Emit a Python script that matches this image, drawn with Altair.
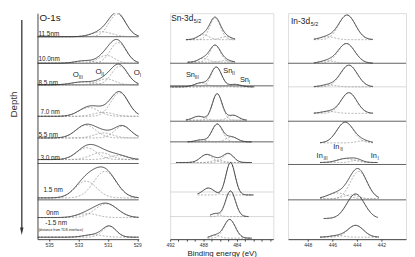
import numpy as np
import pandas as pd
import altair as alt

# ---------------- data ----------------
# O-1s panel: rows top -> bottom
o_depths = ["11.5nm", "10.0nm", "8.5 nm", "7.0 nm", "5.5 nm", "3.0 nm", "1.5 nm", "0nm", "-1.5 nm"]
o_offsets = [206, 179, 157, 125, 103, 81, 42, 22, 2]
o_peaks = [
    [(530.36, 23, 1.35), (531.4, 5, 1.6)],
    [(530.3, 21, 1.3), (531.1, 8, 1.3), (532.6, 2.5, 1.5)],
    [(530.2, 19, 1.3), (531.1, 6, 1.4), (532.7, 3, 1.8)],
    [(530.2, 24, 1.4), (532.3, 9, 1.6), (531.3, 4, 1.6)],
    [(532.5, 13, 1.6), (531.3, 5, 1.5), (530.0, 12, 1.3)],
    [(532.45, 12, 1.6), (531.5, 7, 1.6), (530.3, 4, 1.5)],
    [(532.5, 17, 1.7), (531.2, 27, 1.8)],
    [(531.1, 14, 1.8), (532.4, 4, 1.6)],
    [(530.9, 11, 1.1), (532.0, 2.5, 1.5)],
]
o_domain = [528.9, 535.8]
o_ticks = [535, 533, 531, 529]
o_seps = [206, 179, 157, 77, 40]

# Sn-3d5/2 panel
sn_offsets = [203, 180, 155, 121, 99, 78, 45, 23, 1]
sn_ranges = [(490.1, 484.2), (489.9, 484.2), (492.2, 481.9), (490.1, 482.8), (489.9, 482.2),
             (491.3, 482.2), (488.7, 482.0), (487.2, 482.6), (487.5, 482.2)]
sn_peaks = [
    [(486.6, 22, 1.5), (488.0, 5, 1.6), (485.3, 3, 1.5)],
    [(486.6, 17, 1.5), (488.0, 4, 1.5), (485.3, 2, 1.5)],
    [(486.45, 20, 1.5), (488.3, 4, 1.8), (484.2, 2.5, 1.6)],
    [(486.35, 27, 1.4), (488.6, 4, 1.6), (484.4, 5, 1.5)],
    [(486.35, 18, 1.5), (484.6, 5, 1.6), (488.3, 2, 1.5)],
    [(487.65, 8, 1.7), (485.0, 9, 1.5), (486.3, 2.5, 1.5)],
    [(484.75, 33, 1.3), (487.4, 7, 1.6)],
    [(484.75, 26, 1.4), (486.6, 3, 1.2)],
    [(484.85, 19, 1.6), (486.6, 3, 1.4)],
]
sn_domain = [479.6, 492.0]
sn_ticks = list(range(480, 493))
sn_seps_dark = [179, 156, 120, 99]
sn_seps_light = [77, 48, 23]

# In-3d5/2 panel
in_offsets = [203, 179, 155, 128, 98, 78, 41, 21, 2]
in_ranges = [(447.5, 442.7), (447.5, 442.7), (447.5, 442.7), (447.5, 442.7), (447.0, 442.7),
             (447.0, 442.3), (447.0, 442.2), (446.7, 442.3), (447.0, 442.2)]
in_peaks = [
    [(444.8, 25, 1.6), (446.4, 3, 1.4)],
    [(444.85, 20, 1.6), (446.4, 2.5, 1.4)],
    [(444.65, 22, 1.6), (446.3, 2, 1.4)],
    [(444.65, 21, 1.5), (446.3, 2, 1.4)],
    [(444.95, 21, 1.6), (443.5, 2, 1.2)],
    [(444.9, 4, 1.6), (444.0, 2.5, 1.0)],
    [(443.85, 28, 1.6), (445.6, 6, 1.8), (444.5, 4, 1.4)],
    [(444.1, 25, 1.7)],
    [(444.1, 12, 1.5), (445.6, 1.5, 1.4)],
]
in_domain = [440.0, 449.6]
in_ticks = [448, 446, 444, 442]
in_seps_dark = [179, 120, 76, 40]
in_seps_light = [155]

FONT = "Liberation Sans"
H = 230
dummy = pd.DataFrame({"a": [0]})


def build(offsets, peaks, ranges, domain):
    recs = []
    for i, (off, comps) in enumerate(zip(offsets, peaks)):
        hi, lo = ranges[i] if ranges else (domain[1], domain[0])
        E = np.linspace(lo, hi, 160)
        total = np.zeros_like(E)
        for j, (c, h, w) in enumerate(comps):
            g = h * np.exp(-4 * np.log(2) * (E - c) ** 2 / w ** 2)
            total += g
            recs += [{"E": e, "y": off + v, "s": f"{i}-{j}", "kind": "comp"} for e, v in zip(E, g)]
        recs += [{"E": e, "y": off + v, "s": f"{i}-env", "kind": "env"} for e, v in zip(E, total)]
    return pd.DataFrame(recs)


def ann(text, x, y, size, color="#222", align="left"):
    return alt.Chart(dummy).mark_text(
        text=text, fontSize=size, font=FONT, color=color, align=align, baseline="middle"
    ).encode(x=alt.value(x), y=alt.value(y))


def panel(df, domain, width, ticks, seps_dark, seps_light, anns, label_expr=None,
          title=None, left_axis=False, boxed=True):
    axis_kw = dict(values=ticks, format="d", labelFontSize=5, tickSize=2,
                   labelPadding=1, titlePadding=3, titleFontSize=8, titleFontWeight="normal",
                   labelFont=FONT, titleFont=FONT, grid=False, domainColor="#444",
                   tickColor="#444", labelColor="#333", titleColor="#222", labelFlush=False)
    axis_kw["title"] = title if title else None
    if label_expr:
        axis_kw["labelExpr"] = label_expr
    xaxis = alt.Axis(**axis_kw)
    xs = alt.Scale(domain=domain, reverse=True, nice=False, zero=False)
    ys = alt.Scale(domain=[0, H], nice=False, zero=False)
    if left_axis:
        yaxis = alt.Axis(labels=False, ticks=False, title=None, grid=False, domainColor="#444")
    else:
        yaxis = None
    base = alt.Chart(df).encode(
        x=alt.X("E:Q", scale=xs, axis=xaxis),
        y=alt.Y("y:Q", scale=ys, axis=yaxis),
        detail="s:N",
    )
    comps = base.transform_filter(alt.datum.kind == "comp").mark_line(
        clip=True, color="#8c8c8c", strokeWidth=0.7, strokeDash=[2, 1.5])
    env = base.transform_filter(alt.datum.kind == "env").mark_line(
        clip=True, color="#1e1e1e", strokeWidth=0.8)
    layers = []
    if seps_light:
        layers.append(alt.Chart(pd.DataFrame({"y": seps_light})).mark_rule(
            color="#c8c8c8", strokeWidth=0.7).encode(y=alt.Y("y:Q", scale=ys, axis=yaxis)))
    if seps_dark:
        layers.append(alt.Chart(pd.DataFrame({"y": seps_dark})).mark_rule(
            color="#3a3a3a", strokeWidth=0.8).encode(y=alt.Y("y:Q", scale=ys, axis=yaxis)))
    layers += [comps, env]
    layers += [ann(*a) for a in anns]
    ch = alt.layer(*layers).properties(width=width, height=H)
    if not boxed:
        ch = ch.properties(view=alt.ViewBackground(stroke="transparent"))
    return ch


o_anns = [
    ("O-1s", 2, 5, 10),
    (o_depths[0], 1, 21, 6.5), (o_depths[1], 1, 47, 6.5), (o_depths[2], 1, 71, 6.5),
    (o_depths[3], 3, 101, 6.5), (o_depths[4], 1, 124, 6.5), (o_depths[5], 3, 147, 6.5),
    (o_depths[6], 6, 180, 6.5), (o_depths[7], 9, 203, 6.5), (o_depths[8], 8, 214, 6.5),
    ("(distance from TDS interface)", 1, 221, 3.5),
    ("O", 36, 63, 8), ("III", 42, 65, 5),
    ("O", 59, 60, 8), ("II", 65, 62, 5),
    ("O", 98, 61, 8), ("I", 104, 63, 5),
]
sn_anns = [
    ("Sn-3d", 1, 5, 8.5), ("5/2", 24, 8, 5.5),
    ("Sn", 16, 63, 7.5), ("III", 25, 65, 5),
    ("Sn", 54, 59, 7.5), ("II", 63, 61, 5),
    ("Sn", 71, 68, 7.5), ("I", 80, 70, 5),
]
in_anns = [
    ("In-3d", 3, 8, 8.5), ("5/2", 23, 11, 5.5),
    ("In", 29, 145, 7.5), ("III", 36, 147, 5),
    ("In", 46, 136, 7.5), ("II", 53, 138, 5),
    ("In", 84, 145, 7.5), ("I", 91, 147, 5),
]

o_df = build(o_offsets, o_peaks, None, o_domain)
sn_df = build(sn_offsets, sn_peaks, sn_ranges, sn_domain)
in_df = build(in_offsets, in_peaks, in_ranges, in_domain)

o_chart = panel(o_df, o_domain, 103, o_ticks, o_seps, None, o_anns, left_axis=True, boxed=False)
sn_chart = panel(sn_df, sn_domain, 105, sn_ticks, sn_seps_dark, sn_seps_light, sn_anns,
                 label_expr="(datum.value == 492 || datum.value == 488 || datum.value == 484) ? datum.label : ''",
                 title="Binding energy (eV)")
in_chart = panel(in_df, in_domain, 120, in_ticks, in_seps_dark, in_seps_light, in_anns)

arrow_path = "M-0.45,-1 L0.45,-1 L0,1 Z"
depth = alt.layer(
    alt.Chart(dummy).mark_rule(color="#555", strokeWidth=1.6).encode(
        x=alt.value(13), y=alt.value(7), y2=alt.value(220)),
    alt.Chart(dummy).mark_point(shape=arrow_path, filled=True, size=60, color="#333", opacity=1).encode(
        x=alt.value(13), y=alt.value(222)),
    alt.Chart(dummy).mark_text(text="Depth", angle=270, fontSize=10, font=FONT, color="#333",
                               align="center", baseline="middle").encode(
        x=alt.value(5), y=alt.value(93)),
).properties(width=14, height=H, view=alt.ViewBackground(stroke="transparent"))

spacer = alt.Chart(dummy).mark_point(opacity=0).encode(
    x=alt.value(1), y=alt.value(1)
).properties(width=2, height=H, view=alt.ViewBackground(stroke="transparent"))

chart = alt.hconcat(depth, o_chart, spacer, sn_chart, in_chart, spacing=15, bounds="flush").properties(
    padding={"left": 0, "top": 0, "right": 0, "bottom": 0}
).configure_view(stroke="#444", strokeWidth=0.8).configure(font=FONT)

chart.save("out.html", embed_options={"renderer": "svg", "actions": False})
